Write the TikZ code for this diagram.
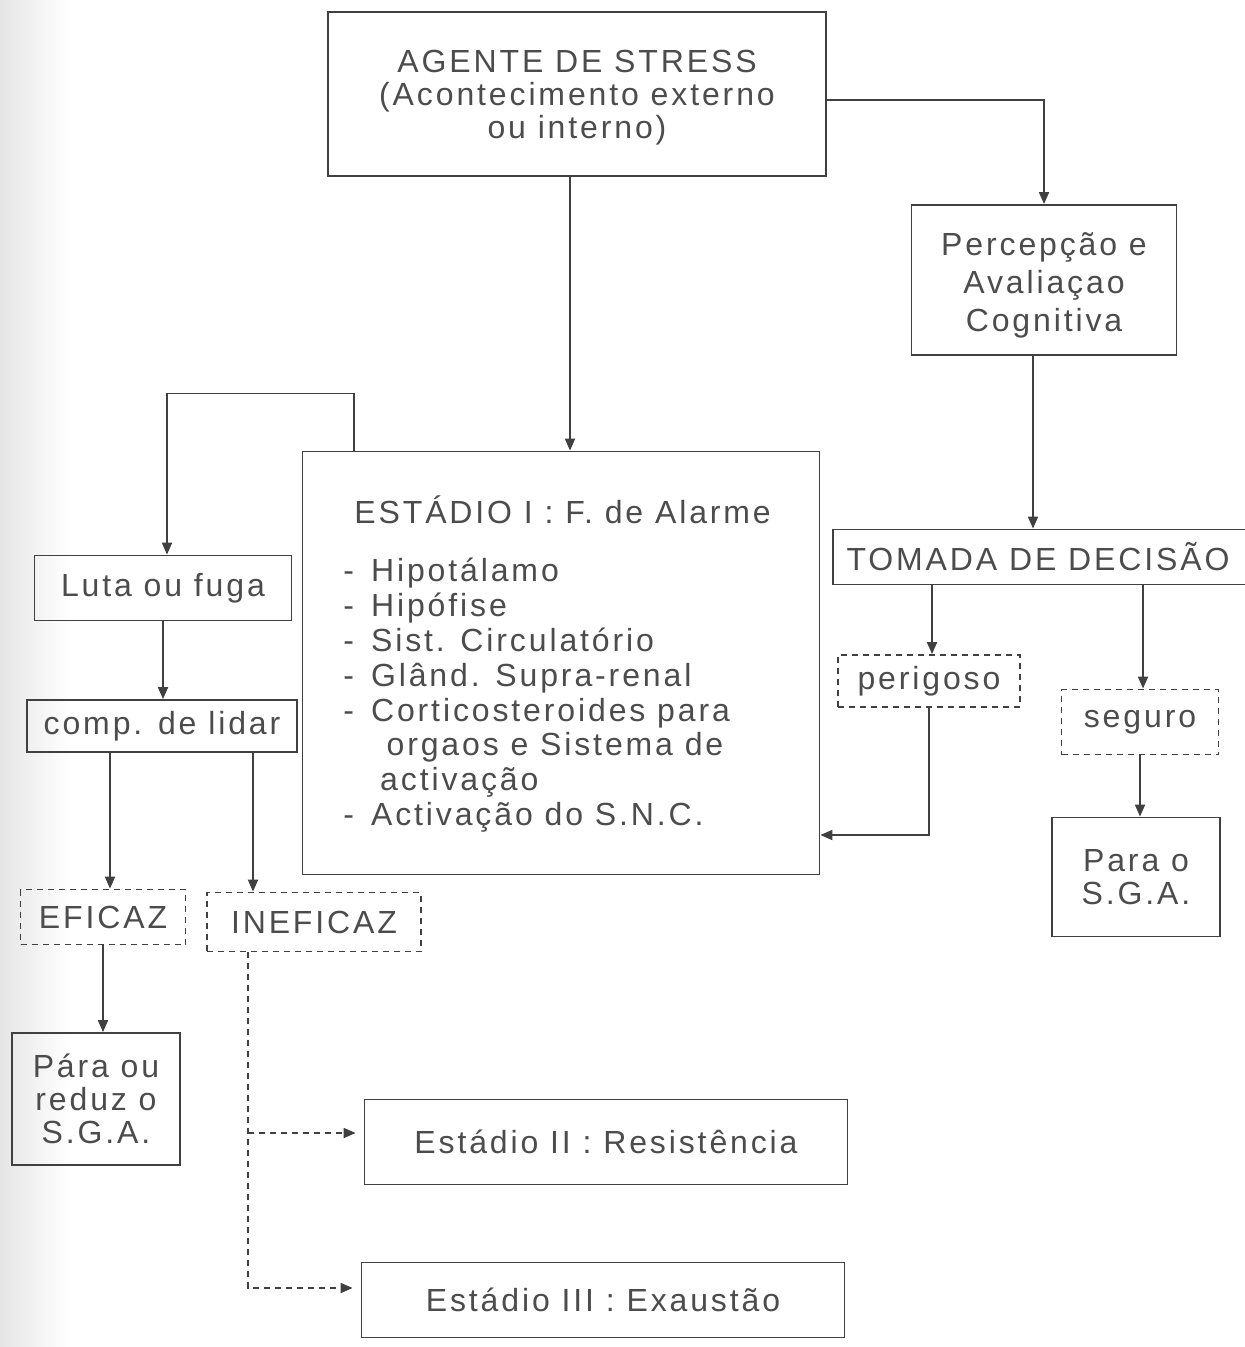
\documentclass[tikz,border=0pt]{standalone}
\usepackage{fontspec}
\setmainfont{Liberation Sans}[LetterSpace=9]
\usetikzlibrary{arrows.meta}
\definecolor{textc}{gray}{0.30}
\definecolor{linec}{gray}{0.25}
\tikzset{
  every node/.style={text=textc, font=\fontsize{16}{16.5}\selectfont},
  box/.style={draw=linec, line width=0.9pt, inner sep=0pt, align=center},
  dbox/.style={box, dash pattern=on 3pt off 2.5pt},
  txt/.style={inner sep=0pt, align=center},
  arr/.style={draw=linec, line width=0.9pt, -{Triangle[length=6pt,width=5pt]}},
  darr/.style={draw=linec, line width=0.9pt, dash pattern=on 3pt off 2.5pt, -{Triangle[length=6pt,width=5pt]}, shorten >=4pt},
}
\newcommand{\itm}{-\hspace*{8.5pt}}
\begin{document}
\begin{tikzpicture}[x=0.5pt,y=-0.5pt]
\useasboundingbox (0,0) rectangle (1245,1347);
\shade[left color=black!10, right color=white] (0,0) rectangle (70,1347);

% boxes
\node[box, minimum width=249pt, minimum height=82pt] (agente) at (577,94) {};
\node[txt] (agentet) at (577,98) {AGENTE DE STRESS\\(Acontecimento externo\\ou interno)};
\node[box, minimum width=132.5pt, minimum height=75pt] (percep) at (1044,280) {};
\node[txt, font=\fontsize{16}{19}\selectfont] (percept) at (1044,285) {Percepção e\\Avaliaçao\\Cognitiva};
\node[box, minimum width=258.5pt, minimum height=211.5pt] (est1) at (561,663) {};
\node[anchor=west, inner sep=0pt] (est1t) at (354,510) {ESTÁDIO I : F. de Alarme};
\node[anchor=north west, inner sep=0pt, align=left, font=\fontsize{16}{17.4}\selectfont] (est1l) at (343,558)
  {\itm Hipotálamo\\\itm Hipófise\\\itm Sist. Circulatório\\\itm Glând. Supra-renal\\\itm Corticosteroides para\\
   \hspace*{1.35em}orgaos e Sistema de\\\hspace*{1.15em}activação\\\itm Activação do S.N.C.};
\node[box, minimum width=211pt, minimum height=27.5pt] (tomada) at (1044,557) {\hspace*{-6pt}TOMADA DE DECISÃO};
\node[dbox, minimum width=91pt, minimum height=26pt] (perig) at (929,681) {perigoso};
\node[dbox, minimum width=78.5pt, minimum height=32.5pt] (seguro) at (1140,722) {seguro};
\node[box, minimum width=84pt, minimum height=59.5pt] (parao) at (1136,877) {Para o\\S.G.A.};
\node[box, minimum width=128.5pt, minimum height=32.5pt] (luta) at (163,588) {Luta ou fuga};
\node[box, minimum width=135pt, minimum height=26pt] (comp) at (162,726) {comp. de lidar};
\node[dbox, minimum width=82.5pt, minimum height=27.5pt] (efic) at (103,917) {EFICAZ};
\node[dbox, minimum width=107pt, minimum height=29.5pt] (inef) at (314,922) {INEFICAZ};
\node[box, minimum width=84pt, minimum height=66pt] (pare) at (96,1099) {Pára ou\\reduz o\\S.G.A.};
\node[box, minimum width=241.5pt, minimum height=42.5pt] (est2) at (606,1142) {Estádio II : Resistência};
\node[box, minimum width=241.5pt, minimum height=37.5pt] (est3) at (603,1300) {Estádio III : Exaustão};

% helper coordinates
\coordinate (inefout) at ([xshift=-33pt]inef.south);
\coordinate (e2in) at ([yshift=4.5pt]est2.west);
\coordinate (e3in) at ([yshift=6pt]est3.west);
\coordinate (e1in) at ([yshift=-86pt]est1.east);

% connectors
\draw[arr] ([xshift=-3.5pt]agente.south) -- ([xshift=-3.5pt]agente.south |- est1.north);
\draw[arr] ([yshift=-3pt]agente.east) -| (percep.north);
\draw[arr] ([xshift=-5.5pt]percep.south) -- ([xshift=-5.5pt]percep.south |- tomada.north);
\draw[arr] ([xshift=26pt]est1.north west) -- ++(0,-57) -| ([xshift=2pt]luta.north);
\draw[arr] (luta.south) -- (luta.south |- comp.north);
\draw[arr] ([xshift=3.5pt]efic.north |- comp.south) -- ([xshift=3.5pt]efic.north);
\draw[arr] ([xshift=-30.5pt]inef.north |- comp.south) -- ([xshift=-30.5pt]inef.north);
\draw[arr] (efic.south) -- (efic.south |- pare.north);
\draw[darr] (inefout) |- (e3in);
\draw[darr] (inefout |- e2in) -- (e2in);
\draw[arr] ([xshift=1.5pt]perig.north |- tomada.south) -- ([xshift=1.5pt]perig.north);
\draw[arr] ([xshift=1.5pt]seguro.north |- tomada.south) -- ([xshift=1.5pt]seguro.north);
\draw[arr] (perig.south) |- (e1in);
\draw[arr] (seguro.south) -- (seguro.south |- parao.north);
\end{tikzpicture}
\end{document}
